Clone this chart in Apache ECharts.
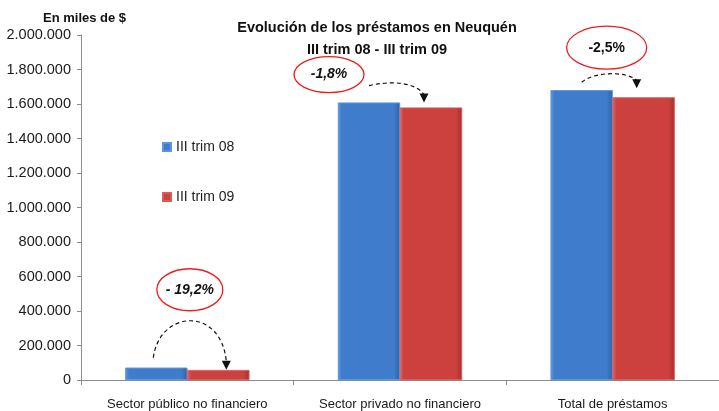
<!DOCTYPE html>
<html>
<head>
<meta charset="utf-8">
<script src="https://cdn.jsdelivr.net/npm/echarts@6/dist/echarts.min.js"></script>
<style>html,body{margin:0;padding:0;background:#fff}#c{width:719px;height:411px}</style>
</head>
<body>
<div id="c"></div>
<script>
const categories = ['Sector público no financiero', 'Sector privado no financiero', 'Total de préstamos'];
const serieNames = ['III trim 08', 'III trim 09'];
const trim08 = [71000, 1608000, 1680000];
const trim09 = [57400, 1579000, 1638000];
const variaciones = ['- 19,2%', '-1,8%', '-2,5%'];
const yTicks = { min: 0, max: 2000000, interval: 200000 };

const FONT = '"Liberation Sans",Arial,sans-serif';
const chart = echarts.init(document.getElementById('c'), null, { renderer: 'canvas' });

function grad(c1, c2, c3) {
  return new echarts.graphic.LinearGradient(0, 0, 1, 0, [
    { offset: 0, color: c1 }, { offset: 0.06, color: c2 }, { offset: 0.9, color: c2 }, { offset: 1, color: c3 }
  ]);
}
const blue = grad('#5f98e0', '#3f7dcc', '#2f62a4');
const red = grad('#dc6a67', '#cc403d', '#a23230');

function fmt(v) { return String(v).replace(/\B(?=(\d{3})+(?!\d))/g, '.'); }

chart.setOption({
  animation: false,
  backgroundColor: '#ffffff',
  textStyle: { fontFamily: FONT },
  title: [
    { text: 'Evolución de los préstamos en Neuquén\nIII trim 08 - III trim 09', left: 372, top: 12, textAlign: 'center',
      textStyle: { fontFamily: FONT, fontSize: 14.5, fontWeight: 'bold', color: '#111', lineHeight: 22 } },
    { text: 'En miles de $', left: 38, top: 7,
      textStyle: { fontFamily: FONT, fontSize: 13, fontWeight: 'bold', color: '#111' } }
  ],
  legend: {
    orient: 'vertical', left: 157, top: 135, itemGap: 36, itemWidth: 8, itemHeight: 8,
    icon: 'rect', data: serieNames,
    textStyle: { fontFamily: FONT, fontSize: 14, color: '#222' }
  },
  grid: { left: 81, top: 35, width: 645, height: 345 },
  xAxis: {
    type: 'category', data: categories,
    axisLine: { lineStyle: { color: '#8c8c8c' } },
    axisTick: { show: true, length: 5, lineStyle: { color: '#8c8c8c' } },
    axisLabel: { color: '#1a1a1a', fontSize: 13, margin: 18, interval: 0, fontFamily: FONT }
  },
  yAxis: {
    type: 'value', min: yTicks.min, max: yTicks.max, interval: yTicks.interval,
    splitLine: { show: false },
    axisLine: { show: true, lineStyle: { color: '#8c8c8c' } },
    axisTick: { show: true, length: 4, lineStyle: { color: '#8c8c8c' } },
    axisLabel: { color: '#1a1a1a', fontSize: 14.5, margin: 10, fontFamily: FONT, formatter: fmt }
  },
  series: [
    { name: serieNames[0], type: 'bar', data: trim08, barWidth: 62, barGap: '0%',
      itemStyle: { color: blue, borderColor: '#5a95de', borderWidth: 0.6 } },
    { name: serieNames[1], type: 'bar', data: trim09, barWidth: 62,
      itemStyle: { color: red, borderColor: '#d85b58', borderWidth: 0.6 } }
  ]
});

// Annotation offsets relative to category centre (x) and blue bar top (y)
const ann = [
  { ell: [2.5, -78, 33, 21], s: [-34, -10], c1: [-28, -58], c2: [34, -62], e: [39, -6], italic: true },
  { ell: [-71, -28, 35, 18], s: [-31, -17], c1: [-10, -22], c2: [15, -21], e: [24, -8], italic: true },
  { ell: [-6, -42.5, 40, 21.5], s: [-31, -8], c1: [-18, -19], c2: [14, -19], e: [24, -10], italic: false }
];
const graphics = [];
categories.forEach((cat, i) => {
  const p = chart.convertToPixel({ gridIndex: 0 }, [i, trim08[i]]);
  const cx = p[0], ty = p[1];
  const a = ann[i];
  graphics.push({ type: 'ellipse', shape: { cx: cx + a.ell[0], cy: ty + a.ell[1], rx: a.ell[2], ry: a.ell[3] },
    style: { fill: 'none', stroke: '#ee1c1c', lineWidth: 1.3 }, z: 100 });
  graphics.push({ type: 'text', x: cx + a.ell[0], y: ty + a.ell[1],
    style: { text: variaciones[i], fill: '#111', font: (a.italic ? 'italic ' : '') + 'bold 14px ' + FONT,
      textAlign: 'center', textVerticalAlign: 'middle' }, z: 101 });
  const ex = cx + a.e[0], ey = ty + a.e[1];
  graphics.push({ type: 'bezierCurve', shape: { x1: cx + a.s[0], y1: ty + a.s[1], cpx1: cx + a.c1[0], cpy1: ty + a.c1[1],
    cpx2: cx + a.c2[0], cpy2: ty + a.c2[1], x2: ex, y2: ey },
    style: { fill: 'none', stroke: '#111', lineWidth: 1.2, lineDash: [4, 3] }, z: 100 });
  graphics.push({ type: 'polygon', shape: { points: [[ex, ey + 8], [ex - 4.5, ey - 1], [ex + 4.5, ey - 1]] },
    style: { fill: '#111' }, z: 100 });
});
chart.setOption({ graphic: graphics });
</script>
</body>
</html>
